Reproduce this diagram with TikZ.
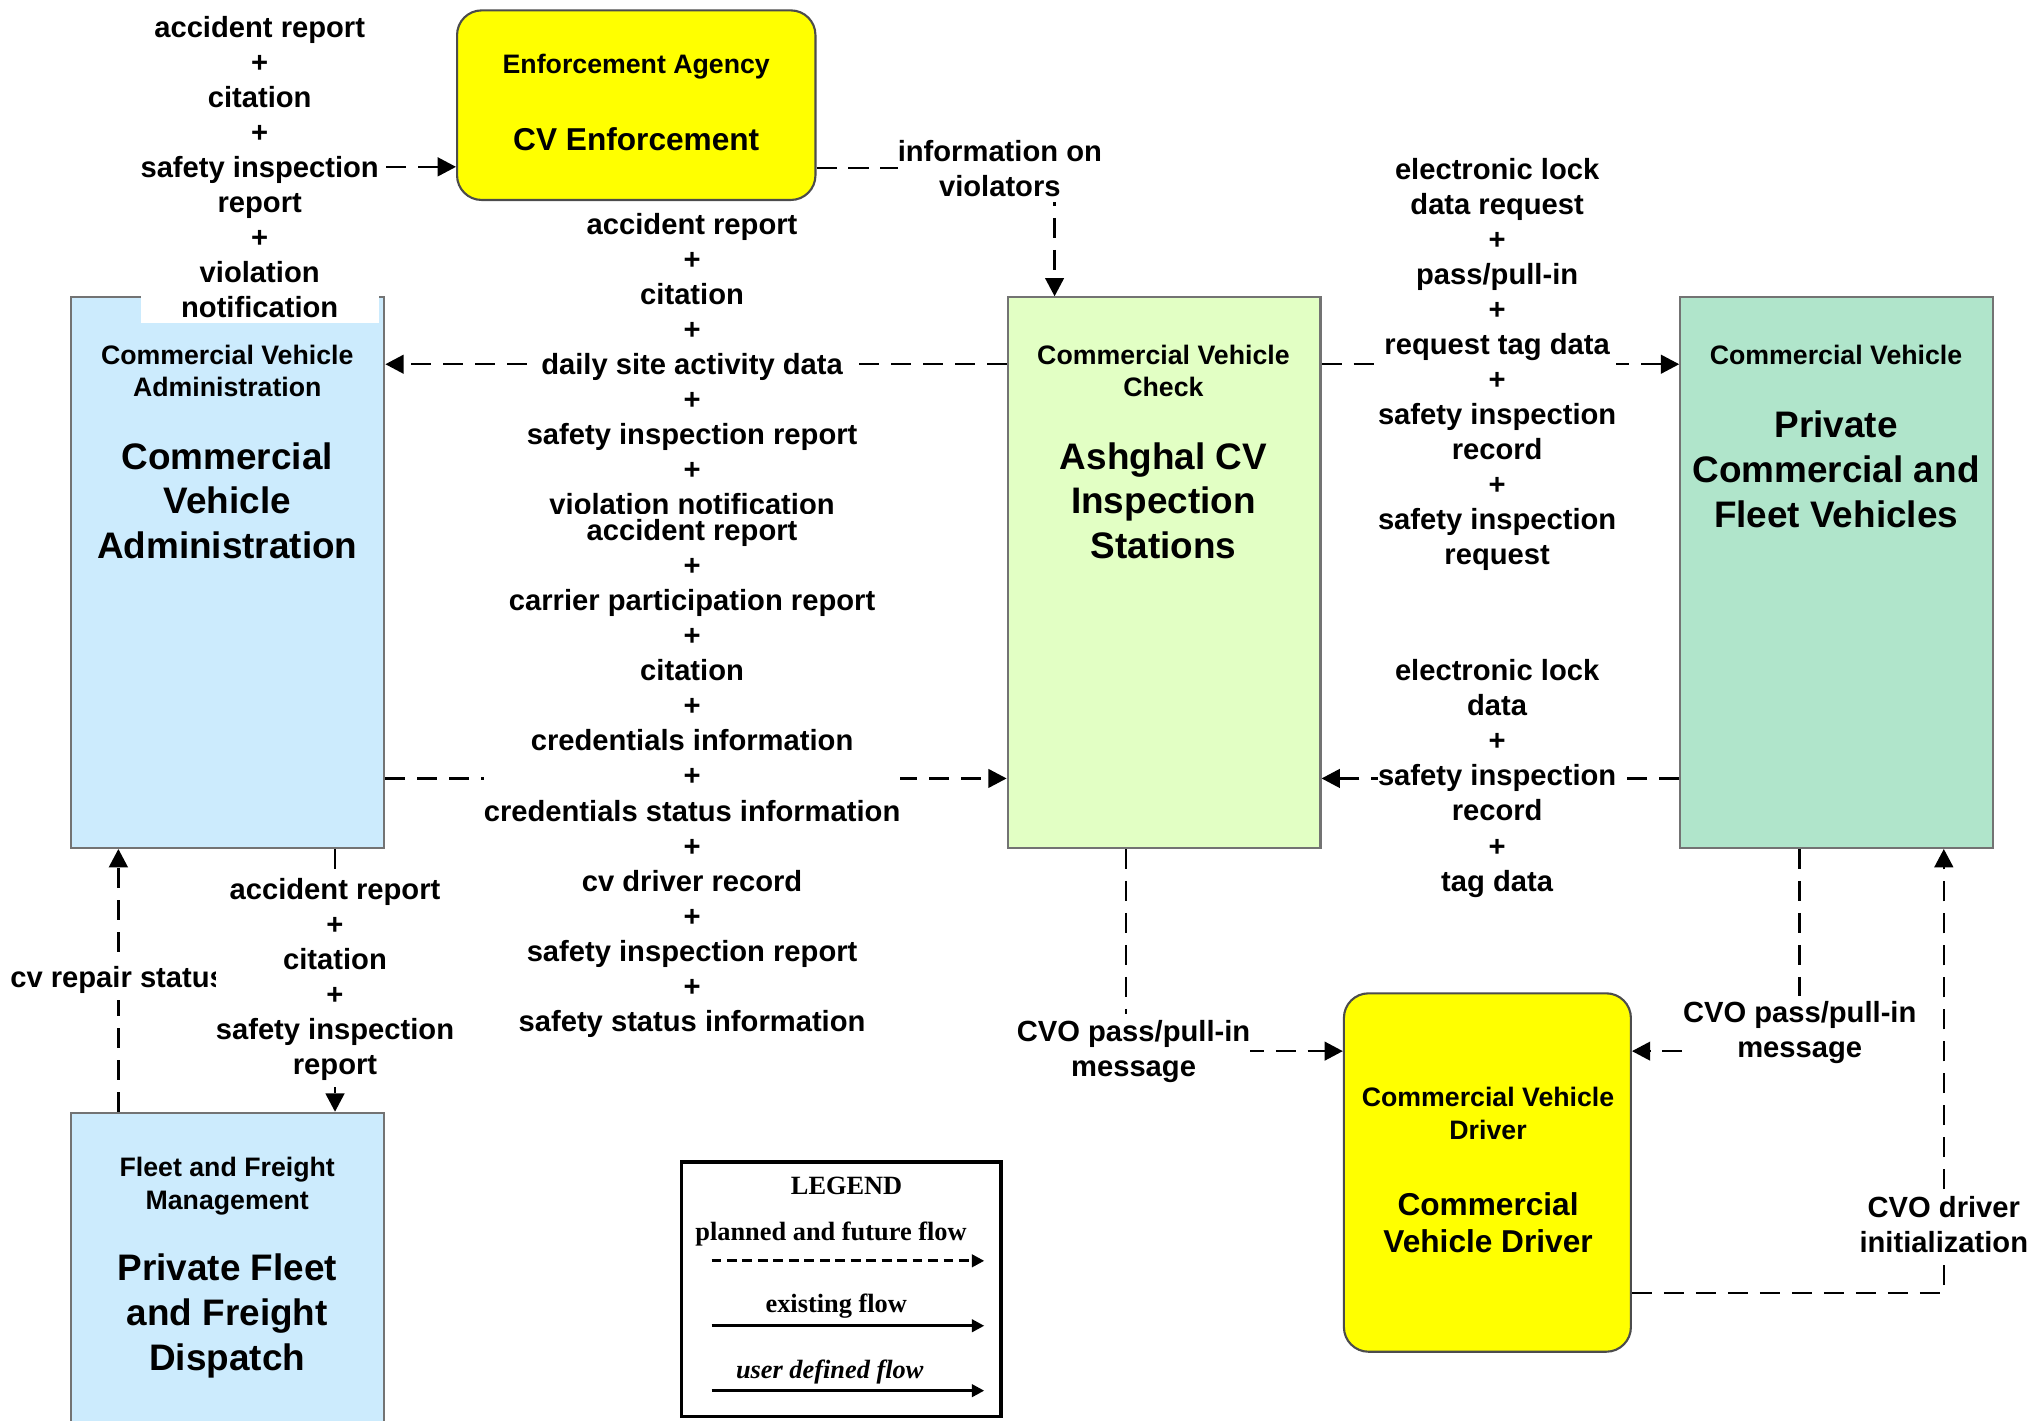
\documentclass[tikz,border=0pt]{standalone}
\usepackage{fontspec}
\setmainfont{Liberation Sans}
\newfontfamily\legendfont{Liberation Serif}
\usetikzlibrary{arrows.meta,backgrounds}

\definecolor{cvblue}{HTML}{CCEBFD}
\definecolor{cvgreen}{HTML}{E2FFC4}
\definecolor{cvmint}{HTML}{B0E5CB}
\definecolor{cvyellow}{HTML}{FFFF00}

\tikzset{
  box/.style={draw=black!55, line width=0.6pt, inner sep=0pt},
  agent/.style={box, draw=black!70, rounded corners=7pt, fill=cvyellow},
  hdr/.style={align=center, font=\fontsize{7.6}{9.2}\selectfont\bfseries},
  ttl/.style={align=center, font=\fontsize{10.5}{12.7}\selectfont\bfseries},
  lbl/.style={align=center, fill=white, inner xsep=0pt, inner ysep=1.6pt, font=\fontsize{8.3}{9.97}\selectfont\bfseries},
  flow/.style={line width=0.7pt, dash pattern=on 5.7pt off 3.4pt, -{Triangle[length=5.2pt,width=5.3pt]}},
  legtxt/.style={font=\fontsize{7.5}{9}\selectfont\legendfont\bfseries},
  legarrow/.style={line width=0.85pt, -{Triangle[length=3.5pt,width=3.5pt]}},
}

\begin{document}
\begin{tikzpicture}[x=0.012985cm, y=-0.012985cm]
    \useasboundingbox (0,0) rectangle (1568,1094);

    % the boxes
    \node[agent, minimum width=3.584cm, minimum height=1.896cm] (enf) at (490,81) {};
    \node[hdr] (enfHdr) at (490,51) {Enforcement Agency};
    \node[ttl, font=\fontsize{9}{10.7}\selectfont\bfseries] (enfTtl) at (490,107) {CV Enforcement};

    \node[box, fill=cvblue, minimum width=3.129cm, minimum height=5.506cm] (cva) at (175.5,441) {};
    \node[hdr] (cvaHdr) at (175,285.5) {Commercial Vehicle\\Administration};
    \node[ttl] (cvaTtl) at (175,385.5) {Commercial\\Vehicle\\Administration};

    \node[box, fill=cvgreen, minimum width=3.129cm, minimum height=5.506cm] (chk) at (896.5,441) {};
    \node[hdr] (chkHdr) at (896,285.5) {Commercial Vehicle\\Check};
    \node[ttl] (chkTtl) at (896,385.5) {Ashghal CV\\Inspection\\Stations};

    \node[box, fill=cvmint, minimum width=3.129cm, minimum height=5.506cm] (priv) at (1414.5,441) {};
    \node[hdr] (privHdr) at (1414,273) {Commercial Vehicle};
    \node[ttl] (privTtl) at (1414,361.5) {Private\\Commercial and\\Fleet Vehicles};

    \node[box, fill=cvblue, minimum width=3.129cm, minimum height=3.246cm] (fleet) at (175.5,982) {};
    \node[hdr] (fleetHdr) at (175,913.5) {Fleet and Freight\\Management};
    \node[ttl] (fleetTtl) at (175,1013.5) {Private Fleet\\and Freight\\Dispatch};

    \node[agent, minimum width=2.870cm, minimum height=3.584cm] (drv) at (1145.5,903) {};
    \node[hdr] (drvHdr) at (1146,857.5) {Commercial Vehicle\\Driver};
    \node[ttl, font=\fontsize{9}{10.7}\selectfont\bfseries] (drvTtl) at (1146,941.5) {Commercial\\Vehicle Driver};

    % flow labels
    \node[lbl] (lblEnf) at (200,128.5) {accident report\\+\\citation\\+\\safety inspection\\report\\+\\violation\\notification};
    \node[lbl] (lblViol) at (770,129.5) {information on\\violators};
    \node[lbl] (lblToCva) at (533,280.5) {accident report\\+\\citation\\+\\daily site activity data\\+\\safety inspection report\\+\\violation notification};
    \node[lbl] (lblToChk) at (533,599.5) {accident report\\+\\carrier participation report\\+\\citation\\+\\credentials information\\+\\credentials status information\\+\\cv driver record\\+\\safety inspection report\\+\\safety status information};
    \node[lbl] (lblToPriv) at (1153,280.5) {electronic lock\\data request\\+\\pass/pull-in\\+\\request tag data\\+\\safety inspection\\record\\+\\safety inspection\\request};
    \node[lbl] (lblFromPriv) at (1153,599.5) {electronic lock\\data\\+\\safety inspection\\record\\+\\tag data};
    \node[lbl] (lblPass1) at (873,809.5) {CVO pass/pull-in\\message};
    \node[lbl] (lblPass2) at (1386,795.5) {CVO pass/pull-in\\message};
    \node[lbl] (lblInit) at (1497,943) {CVO driver\\initialization};
    \node[lbl] (lblRepair) at (91,755) {cv repair status};
    \node[lbl] (lblToFleet) at (258,754.5) {accident report\\+\\citation\\+\\safety inspection\\report};

    % flows
    \begin{scope}[on background layer]
    \draw[flow] (cva.north -| lblEnf) |- (enf.west |- lblEnf);
    \draw[flow] (enf.east |- lblViol) -| ([xshift=0.480cm]chk.north west);
    \draw[flow] (chk.west |- lblToCva) -- (cva.east |- lblToCva);
    \draw[flow] (cva.east |- lblToChk) -- (chk.west |- lblToChk);
    \draw[flow] (chk.east |- lblToPriv) -- (priv.west |- lblToPriv);
    \draw[flow] (priv.west |- lblFromPriv) -- (chk.east |- lblFromPriv);
    \draw[flow] ([xshift=1.195cm]chk.south west) |- (drv.west |- lblPass1);
    \draw[flow] (priv.south -| lblPass2) |- (drv.east |- lblPass1);
    \draw[flow] ([yshift=0.597cm]drv.south east) -| (priv.south -| lblInit);
    \draw[flow] ([xshift=0.480cm]fleet.north west) -- ([xshift=0.480cm]cva.south west);
    \draw[flow] (cva.south -| lblToFleet) -- (fleet.north -| lblToFleet);
    \end{scope}

    % legend
    \node[draw, line width=1pt, minimum width=3.194cm, minimum height=2.545cm] (legend) at (648,993) {};
    \node[legtxt] (legTitle) at (652,913) {LEGEND};
    \node[legtxt] (legPlan) at (640,950) {planned and future flow};
    \node[legtxt] (legExist) at (644,1006) {existing flow};
    \node[legtxt, font=\fontsize{7.5}{9}\selectfont\legendfont\bfseries\itshape] (legUser) at (639,1057) {user defined flow};
    \coordinate (planA) at (548,971);  \coordinate (planB) at (758,971);
    \coordinate (existA) at (548,1021); \coordinate (existB) at (758,1021);
    \coordinate (userA) at (548,1071); \coordinate (userB) at (758,1071);
    \draw[legarrow, dash pattern=on 2.8pt off 1.6pt] (planA) -- (planB);
    \draw[legarrow] (existA) -- (existB);
    \draw[legarrow] (userA) -- (userB);
\end{tikzpicture}
\end{document}
